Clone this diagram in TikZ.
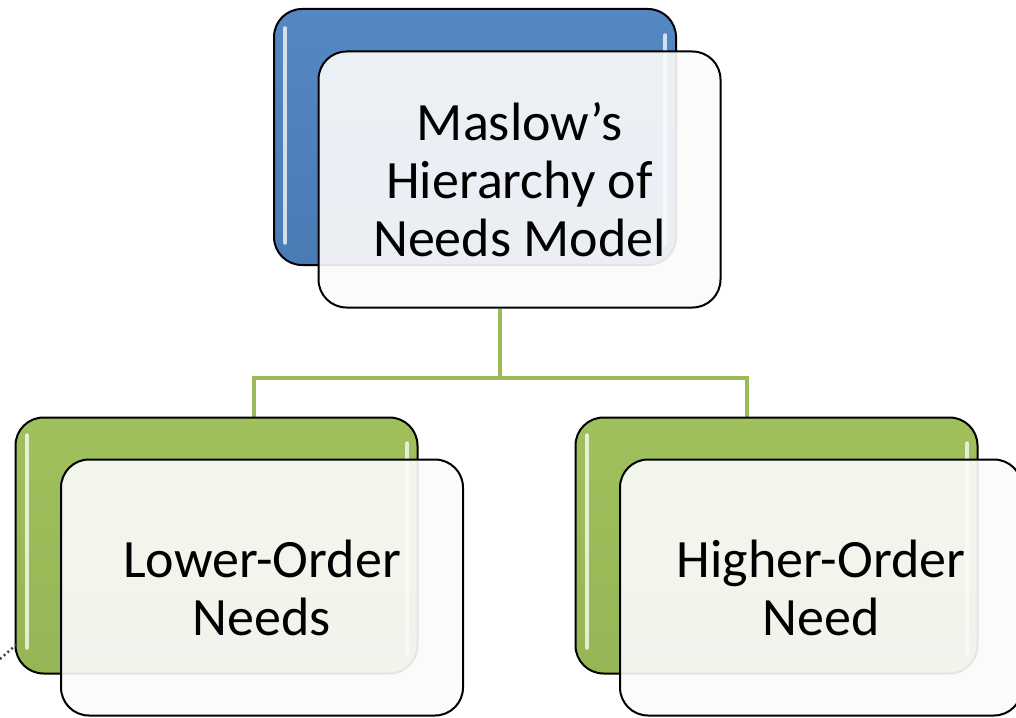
\documentclass[tikz,border=0pt]{standalone}
\usepackage{fontspec}
\setmainfont{Carlito}
\begin{document}
\begin{tikzpicture}[x=1pt,y=-1pt,
  box/.style={draw=black, line width=2pt, rounded corners=28pt,
    minimum width=402pt, minimum height=256pt, inner sep=0pt},
  bluebox/.style={box, top color=blueT, bottom color=blueB},
  greenbox/.style={box, top color=greenT, bottom color=greenB},
  frontbox/.style={box, fill=frontfill, fill opacity=0.91, text opacity=1,
    align=center, font=\fontsize{54}{58}\selectfont},
  gloss/.style={line width=3.5pt, line cap=round, white, opacity=0.75},
  conn/.style={line width=4.5pt, draw=connG}]
\definecolor{blueT}{HTML}{5587C4}
\definecolor{blueB}{HTML}{4A7BB5}
\definecolor{greenT}{HTML}{A0C05E}
\definecolor{greenB}{HTML}{96B554}
\definecolor{connG}{HTML}{9BBB59}
\definecolor{frontfill}{HTML}{FBFBFB}
\definecolor{dotgray}{HTML}{444444}
\useasboundingbox (0,0) rectangle (1016,717);

% junction points of the connector
\coordinate (j1) at (500,378);
\coordinate (jl) at (254,378);
\coordinate (jr) at (747,378);

% top
\node[bluebox] (topback) at (475,137) {};
\coordinate (tg1) at (285,28);
\coordinate (tg2) at (285,243);
\coordinate (tg3) at (665,35);
\coordinate (tg4) at (665,245);
\draw[gloss] (tg1) -- (tg2);
\draw[gloss] (tg3) -- (tg4);
\node[frontbox] (topfront) at (519.5,179.5) {Maslow’s\\Hierarchy of\\Needs Model};

% connector lines
\draw[conn] (topfront.south -| j1) -- (j1);
\draw[conn, line cap=rect] (jl) -- (jr);
\draw[conn] (jl) -- (jl |- 0,417);
\draw[conn] (jr) -- (jr |- 0,417);

% left
\node[greenbox] (lback) at (216.5,545.5) {};
\coordinate (lg1) at (27,435);
\coordinate (lg2) at (27,648);
\coordinate (lg3) at (407,443);
\coordinate (lg4) at (407,655);
\draw[gloss] (lg1) -- (lg2);
\draw[gloss] (lg3) -- (lg4);
\node[frontbox] (lfront) at (262,587.5) {Lower-Order\\Needs};

% right
\node[greenbox] (rback) at (776.5,545.5) {};
\coordinate (rg1) at (587,435);
\coordinate (rg2) at (587,648);
\coordinate (rg3) at (967,443);
\coordinate (rg4) at (967,655);
\draw[gloss] (rg1) -- (rg2);
\draw[gloss] (rg3) -- (rg4);
\node[frontbox] (rfront) at (821,587.5) {Higher-Order\\Need};

% dotted fragment at lower left
\coordinate (d1) at (0,659);
\coordinate (d2) at (17,644);
\draw[dotgray, line width=2.5pt, dash pattern=on 2pt off 3pt] (d1) -- (d2);
\end{tikzpicture}
\end{document}
